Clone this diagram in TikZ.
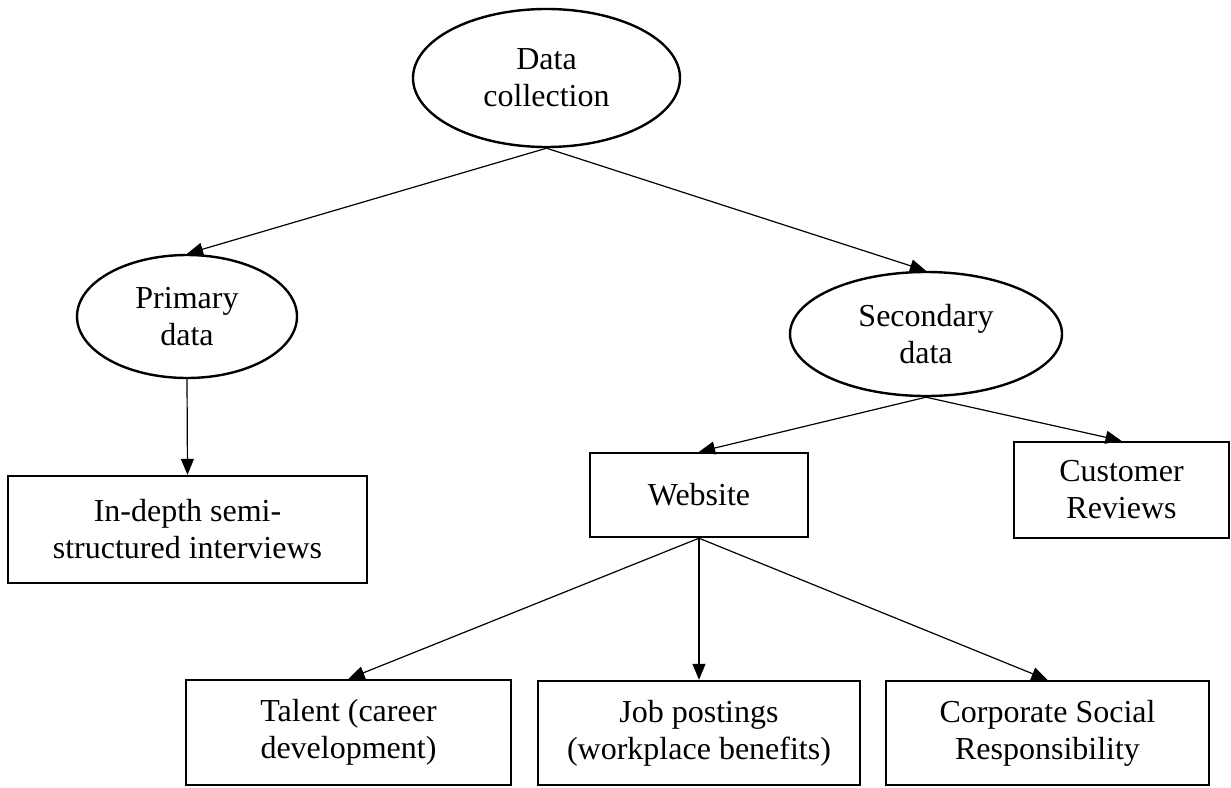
\documentclass[tikz,border=0pt]{standalone}
\usepackage{fontspec}
\setmainfont{Liberation Serif}
\usetikzlibrary{shapes.geometric,arrows.meta}

\begin{document}
\begin{tikzpicture}[x=1pt, y=-1pt, font=\fontsize{32}{37}\selectfont,
  oval/.style={ellipse, draw, line width=2.4pt, inner sep=0pt, align=center},
  box/.style={rectangle, draw, line width=2.4pt, inner sep=0pt, align=center},
  link/.style={-{Triangle[length=16pt,width=13pt]}, line width=1.2pt}]
\useasboundingbox (0,0) rectangle (1231,787);
\node[oval, minimum width=267, minimum height=138] (dc) at (546.5,78) {Data\\collection};
\node[oval, minimum width=220, minimum height=123] (prim) at (187,316.5) {Primary\\data};
\node[oval, minimum width=272, minimum height=124] (sec) at (926,334) {Secondary\\data};
\node[box, minimum width=359, minimum height=107] (interv) at (187.5,529.5) {In-depth semi-\\structured interviews};
\node[box, minimum width=218, minimum height=84] (web) at (699,495) {Website};
\node[box, minimum width=215, minimum height=96] (reviews) at (1121.5,490) {Customer\\Reviews};
\node[box, minimum width=325, minimum height=105] (talent) at (348.5,732.5) {Talent (career\\development)};
\node[box, minimum width=322, minimum height=104] (jobs) at (699,733) {Job postings\\(workplace benefits)};
\node[box, minimum width=323, minimum height=104] (csr) at (1047.5,733) {Corporate Social\\Responsibility};
\draw[link] (dc.south) -- (prim.north);
\draw[link] (dc.south) -- (sec.north);
\draw[link] (prim.south) -- (interv.north);
\draw[link] (sec.south) -- (web.north);
\draw[link] (sec.south) -- (reviews.north);
\draw[link] (web.south) -- (talent.north);
\draw[link] (web.south) -- (jobs.north);
\draw[link] (web.south) -- (csr.north);
\end{tikzpicture}
\end{document}
